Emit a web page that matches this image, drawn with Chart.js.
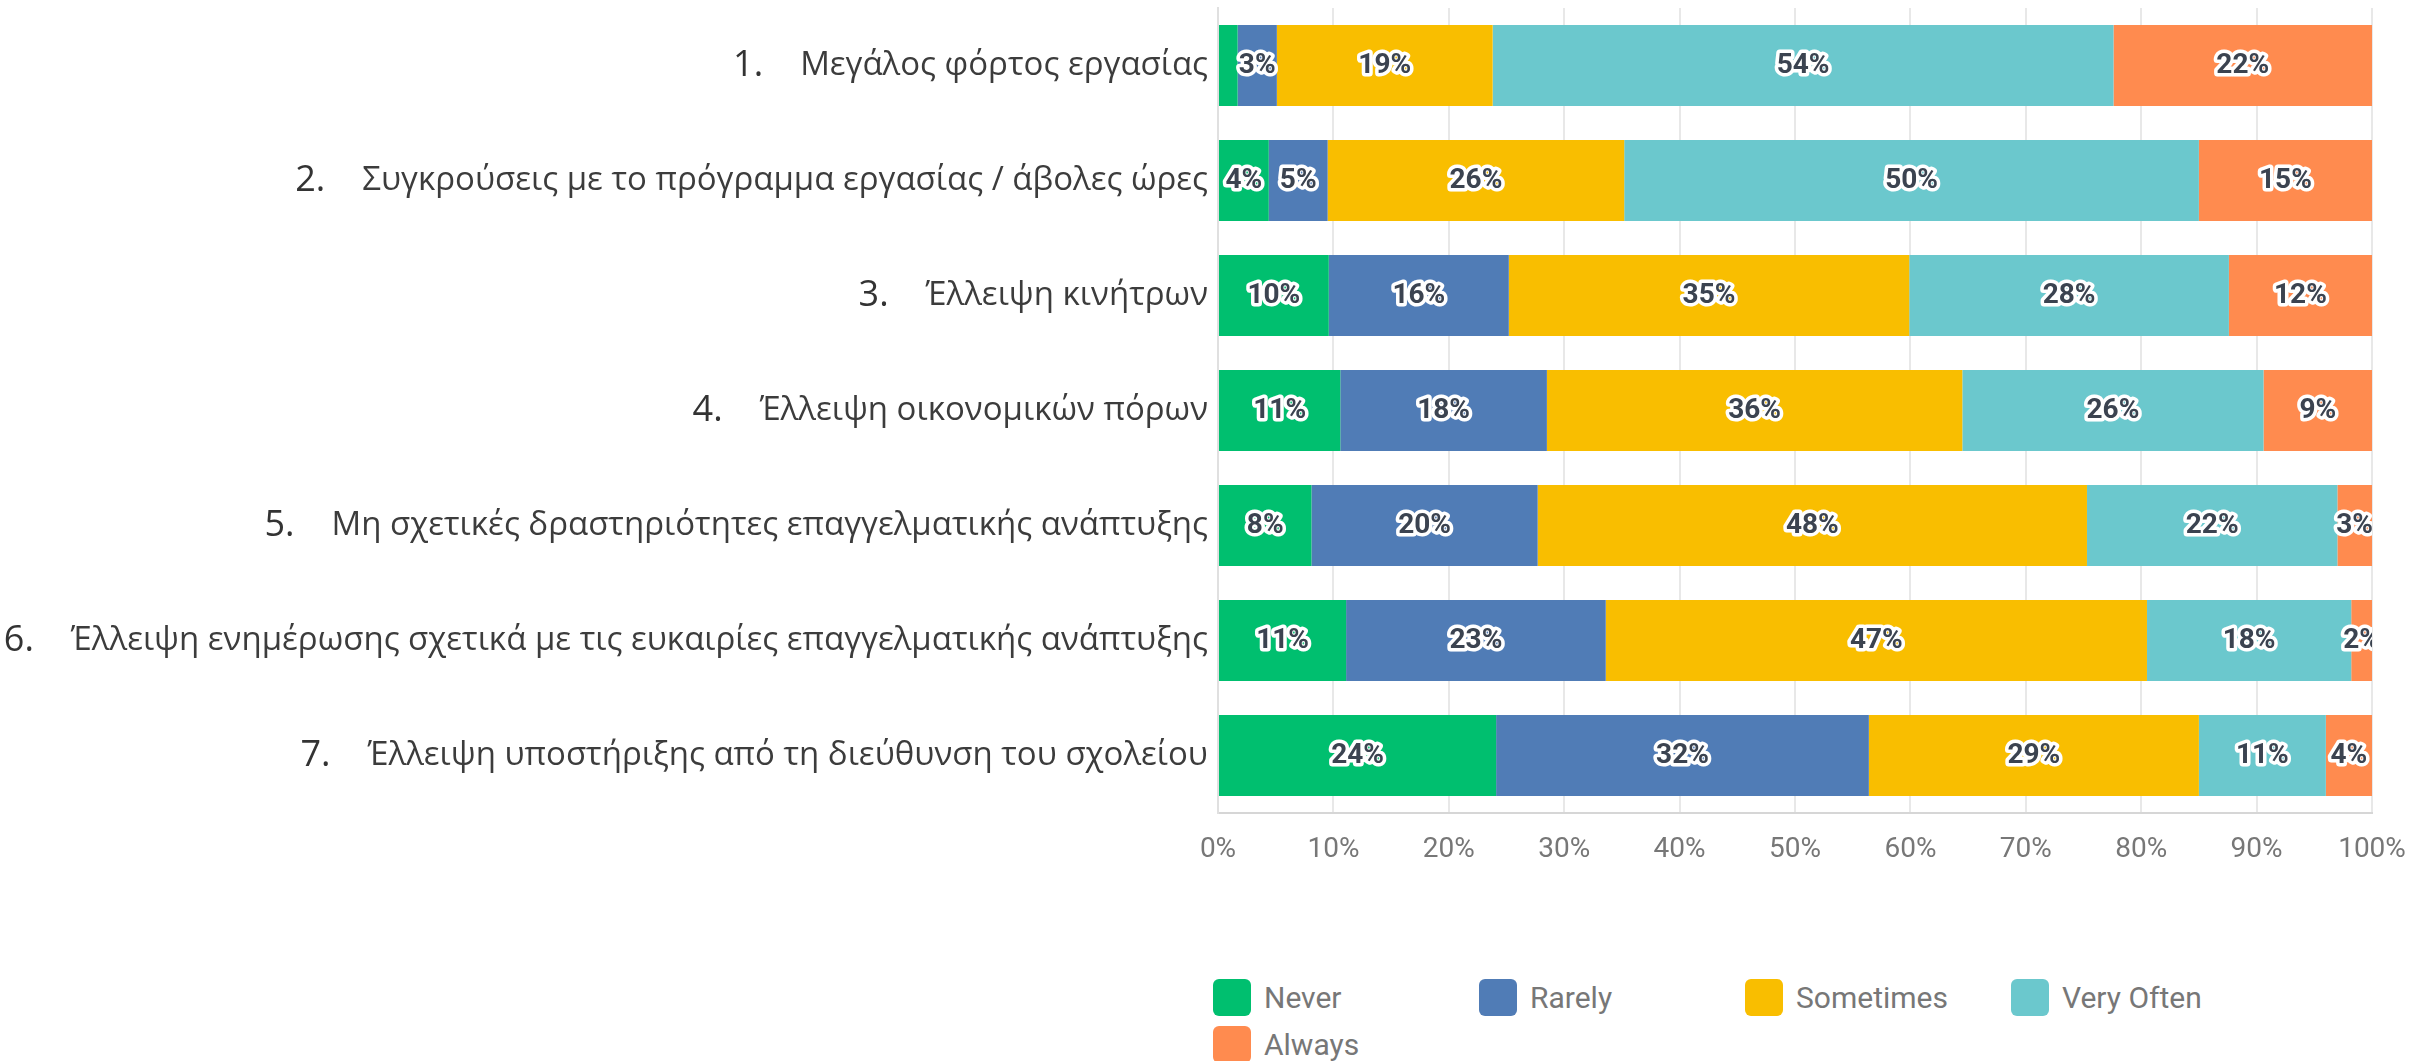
<!DOCTYPE html>
<html lang="el">
<head>
  <meta charset="UTF-8">
  <title>Εμπόδια επαγγελματικής ανάπτυξης</title>
  <style>
    body {
      margin: 0;
      background: #ffffff;
      width: 2420px;
      height: 1061px;
      position: relative;
      overflow: hidden;
    }

    #chartBox {
      position: absolute;
      left: 0;
      top: 0;
      width: 2420px;
      height: 890px;
    }

    #legend {
      position: absolute;
      left: 1213px;
      top: 979px;
      width: 1100px;
      display: grid;
      grid-template-columns: repeat(4, 266px);
      row-gap: 10px;
      font-family: Roboto, "Noto Sans", sans-serif;
      font-size: 30px;
      color: #777777;
    }

    .item {
      display: flex;
      align-items: center;
      height: 37px;
    }

    .item span.box {
      width: 38px;
      height: 37px;
      border-radius: 6px;
      margin-right: 13px;
      flex: none;
    }
  </style>
</head>
<body>

  <div id="chartBox"><canvas id="myChart"></canvas></div>
  <div id="legend"></div>

  <script src="https://cdn.jsdelivr.net/npm/chart.js"></script>
  <script>
    // categories (barriers), top to bottom
    const categories = [
      'Μεγάλος φόρτος εργασίας',
      'Συγκρούσεις με το πρόγραμμα εργασίας / άβολες ώρες',
      'Έλλειψη κινήτρων',
      'Έλλειψη οικονομικών πόρων',
      'Μη σχετικές δραστηριότητες επαγγελματικής ανάπτυξης',
      'Έλλειψη ενημέρωσης σχετικά με τις ευκαιρίες επαγγελματικής ανάπτυξης',
      'Έλλειψη υποστήριξης από τη διεύθυνση του σχολείου'
    ];

    const seriesNames = ['Never', 'Rarely', 'Sometimes', 'Very Often', 'Always'];

    // percentages per answer
    const never     = [1.7, 4.4, 9.6, 10.6, 8.1, 11.1, 24.1];
    const rarely    = [3.4, 5.1, 15.6, 17.9, 19.6, 22.5, 32.3];
    const sometimes = [18.7, 25.7, 34.7, 36.0, 47.6, 46.9, 28.6];
    const veryOften = [53.8, 49.8, 27.7, 26.1, 21.7, 17.7, 11.0];
    const always    = [22.4, 15.0, 12.4, 9.4, 3.0, 1.8, 4.0];

    const xTicks = [0, 10, 20, 30, 40, 50, 60, 70, 80, 90, 100];

    const colors = ['#00bf6f', '#507cb6', '#f9be00', '#6bc8cd', '#ff8b4f'];

    const labelFont = '33px "Open Sans", "Noto Sans", sans-serif';
    const numberFont = '36px "Open Sans", "Noto Sans", sans-serif';

    // percentage text inside each segment, white halo
    const segmentLabels = {
      id: 'segmentLabels',
      afterDatasetsDraw(chart) {
        const ctx = chart.ctx;
        const area = chart.chartArea;
        ctx.save();
        ctx.beginPath();
        ctx.rect(area.left, area.top, area.right - area.left, area.bottom - area.top);
        ctx.clip();
        ctx.font = 'bold 28px Roboto, "Noto Sans", sans-serif';
        ctx.textAlign = 'center';
        ctx.textBaseline = 'middle';
        ctx.lineJoin = 'round';
        chart.data.datasets.forEach((ds, i) => {
          const meta = chart.getDatasetMeta(i);
          meta.data.forEach((bar, j) => {
            const v = ds.data[j];
            if (v < 1.8) return;
            const txt = Math.round(v) + '%';
            const x = (bar.x + bar.base) / 2;
            ctx.lineWidth = 7;
            ctx.strokeStyle = '#ffffff';
            ctx.strokeText(txt, x, bar.y);
            ctx.fillStyle = '#3b4350';
            ctx.fillText(txt, x, bar.y);
          });
        });
        ctx.restore();
      }
    };

    // list numbers in front of the category labels
    const listNumbers = {
      id: 'listNumbers',
      afterDraw(chart) {
        const ctx = chart.ctx;
        const yScale = chart.scales.y;
        ctx.save();
        categories.forEach((label, i) => {
          ctx.font = labelFont;
          const w = ctx.measureText(label).width;
          const right = yScale.right - 10 - w - 37;
          const y = yScale.getPixelForTick(i);
          ctx.font = numberFont;
          ctx.textAlign = 'right';
          ctx.textBaseline = 'middle';
          ctx.fillStyle = '#333333';
          ctx.fillText((i + 1) + '.', right, y);
        });
        ctx.restore();
      }
    };

    function buildLegend(chart) {
      const box = document.getElementById('legend');
      box.innerHTML = '';
      chart.data.datasets.forEach(ds => {
        const item = document.createElement('div');
        item.className = 'item';
        const sw = document.createElement('span');
        sw.className = 'box';
        sw.style.background = ds.backgroundColor;
        const t = document.createElement('span');
        t.textContent = ds.label;
        item.appendChild(sw);
        item.appendChild(t);
        box.appendChild(item);
      });
    }

    window.onload = function () {
      const values = [never, rarely, sometimes, veryOften, always];

      const chartData = {
        labels: categories,
        datasets: seriesNames.map((name, i) => ({
          label: name,
          data: values[i],
          backgroundColor: colors[i],
          borderWidth: 0,
          categoryPercentage: 1,
          barPercentage: 0.705
        }))
      };

      const ctx = document.getElementById('myChart').getContext('2d');
      const myChart = new Chart(ctx, {
        type: 'bar',
        data: chartData,
        plugins: [segmentLabels, listNumbers],
        options: {
          indexAxis: 'y',
          responsive: true,
          maintainAspectRatio: false,
          animation: false,
          layout: {
            padding: { top: 8, right: 48, bottom: 0, left: 0 }
          },
          plugins: {
            legend: { display: false },
            tooltip: { enabled: false }
          },
          scales: {
            x: {
              stacked: true,
              min: 0,
              max: 100,
              afterBuildTicks(scale) {
                scale.ticks = xTicks.map(v => ({ value: v }));
              },
              afterFit(scale) {
                scale.height = 77;
                scale.paddingLeft = 0;
                scale.paddingRight = 0;
              },
              grid: {
                color: '#e8e8e8',
                lineWidth: 2,
                drawTicks: false
              },
              border: {
                color: '#d6d6d6',
                width: 2
              },
              ticks: {
                padding: 20,
                color: '#777777',
                font: { family: 'Roboto, "Noto Sans", sans-serif', size: 28 },
                callback: v => v + '%'
              }
            },
            y: {
              stacked: true,
              afterFit(scale) {
                scale.width = 1218;
                scale.paddingTop = 0;
                scale.paddingBottom = 0;
              },
              grid: { display: false, drawTicks: false },
              border: {
                color: '#e0e0e0',
                width: 2
              },
              ticks: {
                padding: 10,
                color: '#3c3c3c',
                font: { family: '"Open Sans", "Noto Sans", sans-serif', size: 33 }
              }
            }
          }
        }
      });

      buildLegend(myChart);
    };
  </script>
</body>
</html>
